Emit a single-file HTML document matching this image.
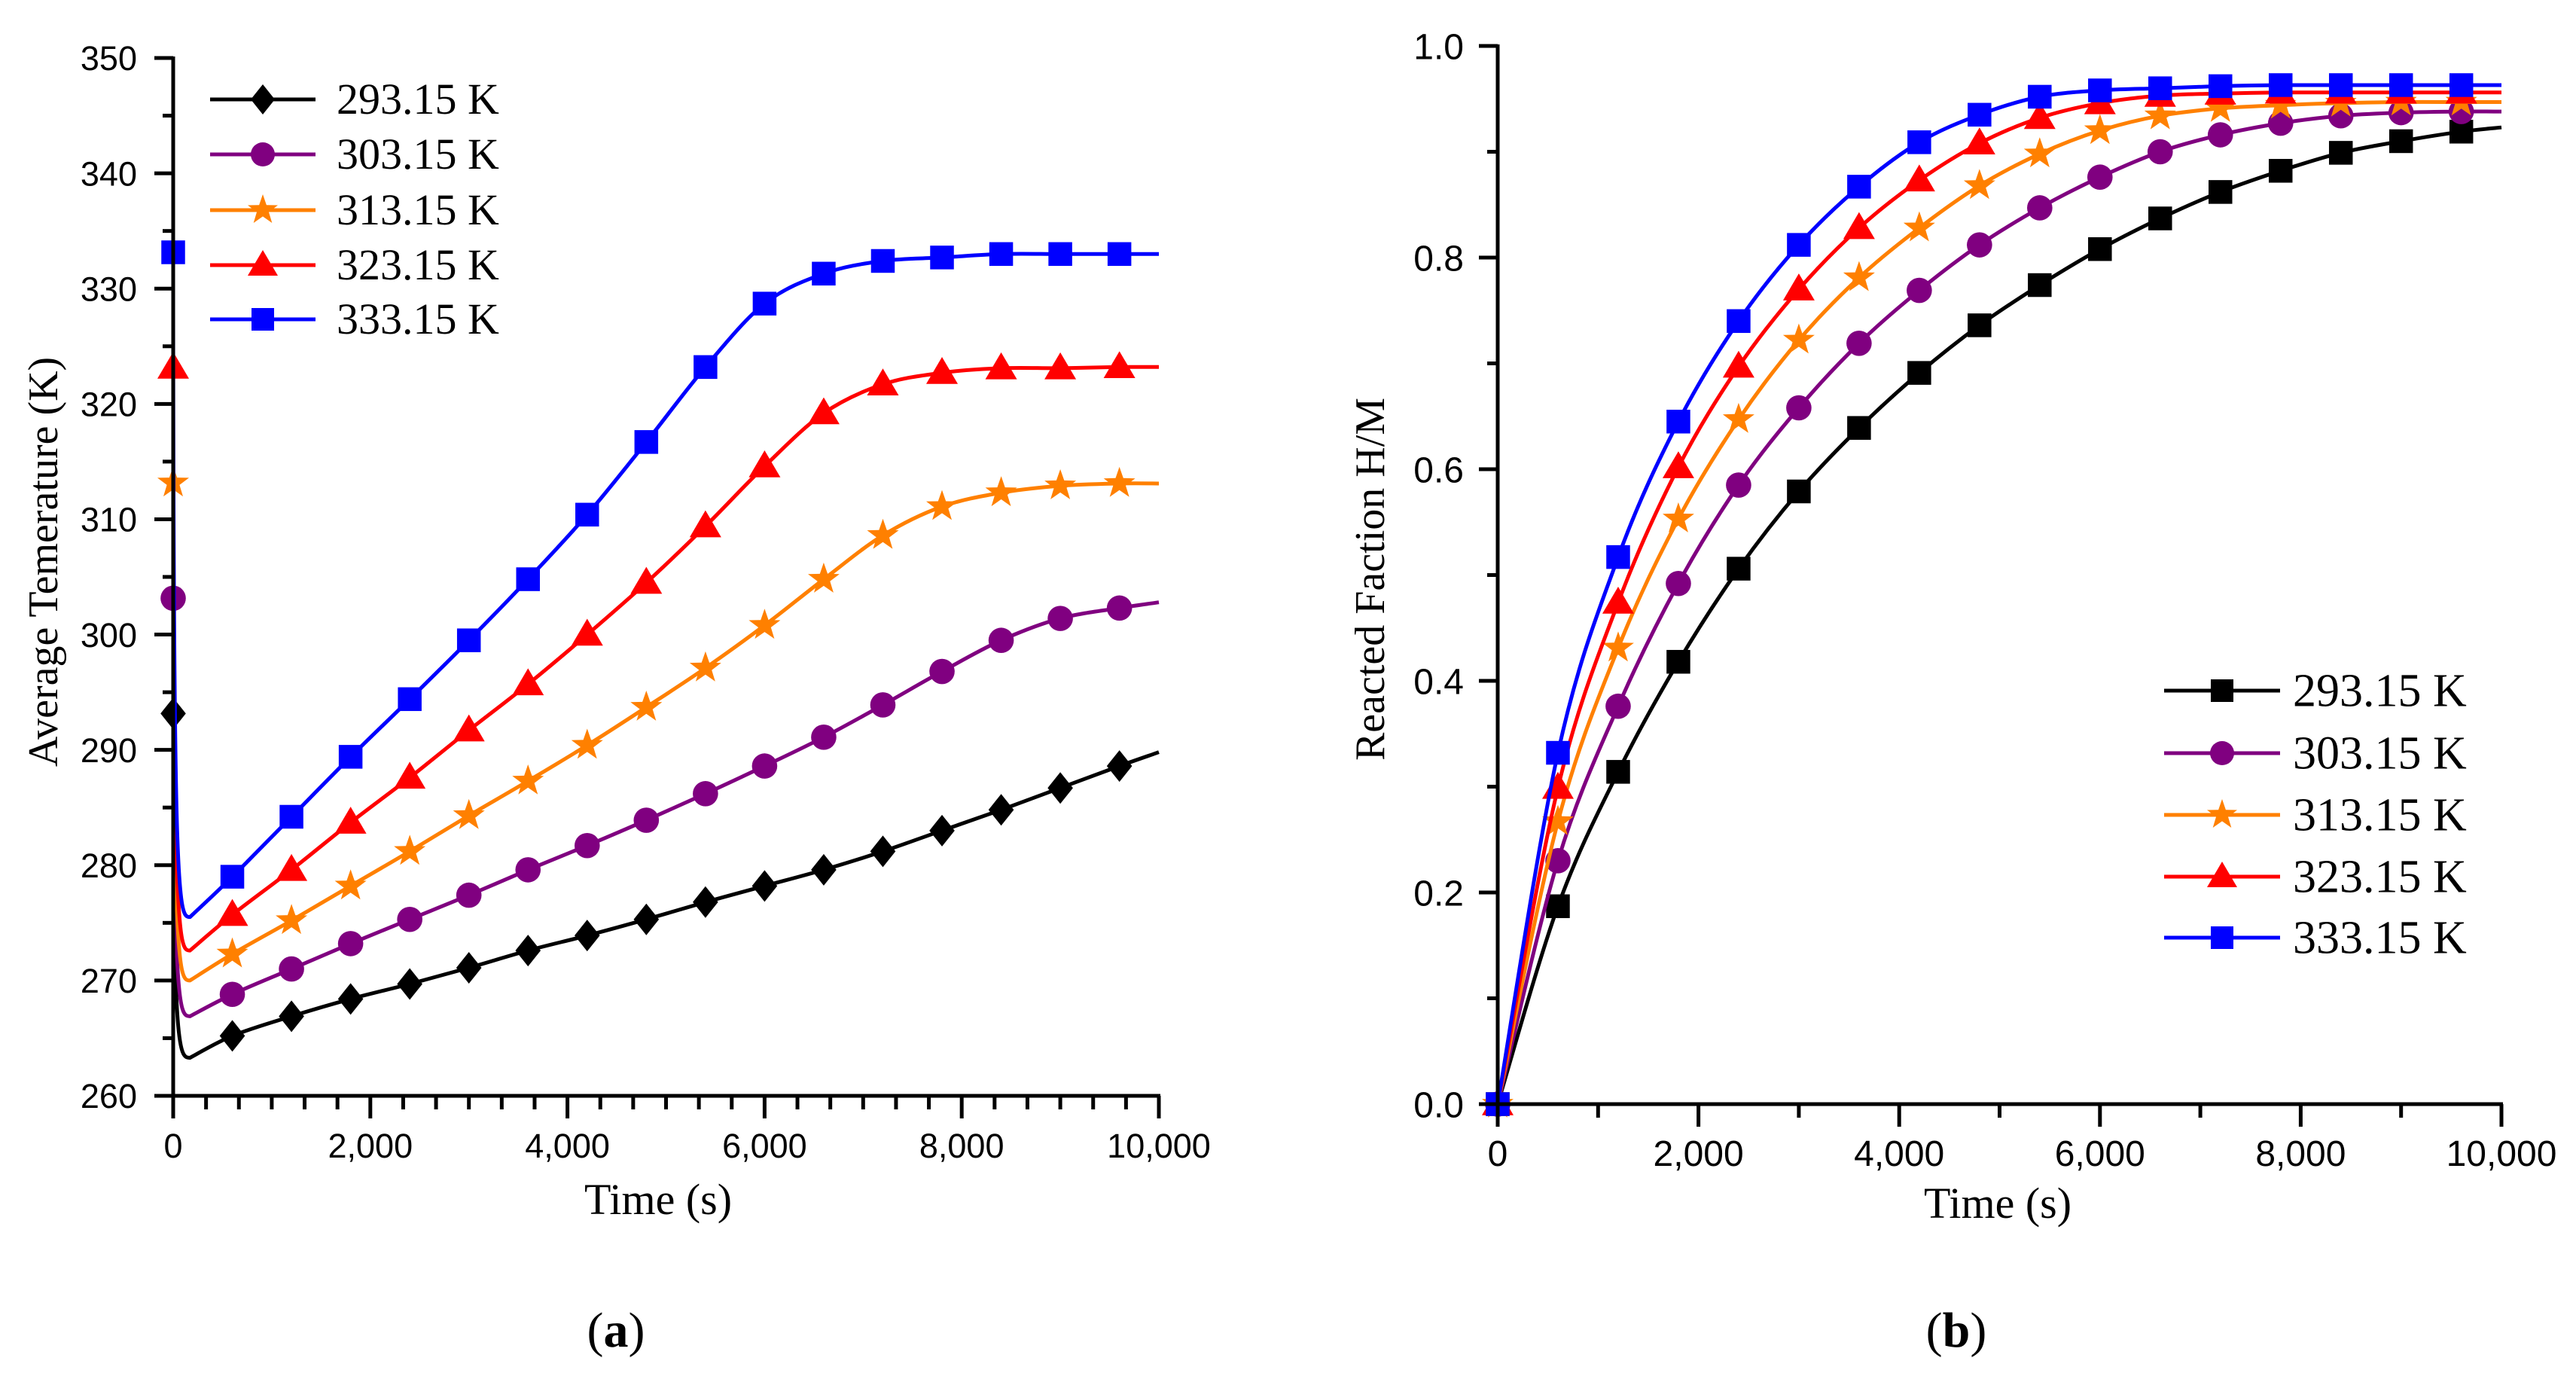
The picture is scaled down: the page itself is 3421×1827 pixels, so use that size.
<!DOCTYPE html>
<html><head><meta charset="utf-8"><style>
html,body{margin:0;padding:0;background:#fff;}
svg{display:block;}
.tick{font-family:"Liberation Sans",Arial,sans-serif;}
.serif{font-family:"Liberation Serif","Times New Roman",serif;}
</style></head><body>
<svg id="fig" width="3421" height="1827" viewBox="0 0 3421 1827" xmlns="http://www.w3.org/2000/svg">
<g id="pa"></g>
<g id="pb"></g>
</svg>
<script>
// ---------- Data ----------
const seriesNames = ["293.15 K","303.15 K","313.15 K","323.15 K","333.15 K"];
const seriesColors = ["#000000","#800080","#ff8000","#ff0000","#0000ff"];
const markerTimes = [600,1200,1800,2400,3000,3600,4200,4800,5400,6000,6600,7200,7800,8400,9000,9600];
// Panel (a): initial temperature, minimum (at ~150 s), marker values, end (10000 s)
const tempInitial = [293.15,303.15,313.15,323.15,333.15];
const tempMinTime = 170;
const tempMin = [263.3,266.9,270.0,272.6,275.5];
const tempBlack  = [265.2,266.9,268.4,269.7,271.1,272.6,273.9,275.3,276.8,278.2,279.6,281.2,283.0,284.8,286.7,288.6];
const tempPurple = [268.8,271.0,273.2,275.3,277.4,279.6,281.7,283.9,286.2,288.6,291.1,293.9,296.8,299.5,301.4,302.3];
const tempOrange = [272.3,275.2,278.2,281.2,284.3,287.3,290.4,293.7,297.1,300.8,304.8,308.6,311.1,312.3,312.9,313.1];
const tempRed    = [275.7,279.6,283.7,287.6,291.7,295.7,300.0,304.5,309.4,314.6,319.2,321.7,322.7,323.1,323.1,323.2];
const tempBlue   = [279.0,284.2,289.4,294.4,299.5,304.8,310.4,316.7,323.2,328.7,331.3,332.4,332.7,333.0,333.0,333.0];
const tempEnd = [289.8,302.8,313.1,323.2,333.0];
const tempYTicks = [260,270,280,290,300,310,320,330,340,350];
const xTickVals = [0,2000,4000,6000,8000,10000];
const xTickLabels = ["0","2,000","4,000","6,000","8,000","10,000"];
// Panel (b)
const fracBlack  = [0.187,0.314,0.418,0.506,0.579,0.639,0.691,0.736,0.774,0.808,0.837,0.862,0.882,0.899,0.910,0.919];
const fracPurple = [0.230,0.376,0.492,0.585,0.658,0.719,0.769,0.812,0.847,0.876,0.900,0.916,0.927,0.934,0.937,0.938];
const fracOrange = [0.267,0.431,0.553,0.647,0.722,0.781,0.828,0.868,0.898,0.920,0.934,0.941,0.944,0.946,0.947,0.947];
const fracRed    = [0.299,0.474,0.602,0.697,0.770,0.828,0.873,0.908,0.932,0.946,0.953,0.955,0.956,0.956,0.956,0.956];
const fracBlue   = [0.332,0.517,0.645,0.740,0.812,0.867,0.909,0.935,0.952,0.958,0.960,0.962,0.963,0.963,0.963,0.963];
const fracEnd = [0.923,0.938,0.947,0.956,0.963];
const fracYTicks = [0.0,0.2,0.4,0.6,0.8,1.0];
const fracYLabels = ["0.0","0.2","0.4","0.6","0.8","1.0"];

const NS="http://www.w3.org/2000/svg";
function mk(parent,tag,attrs,text){const e=document.createElementNS(NS,tag);for(const k in attrs)e.setAttribute(k,attrs[k]);if(text!==undefined)e.textContent=text;parent.appendChild(e);return e;}

function smoothPath(pts){ // Catmull-Rom to bezier
  let d="M"+pts[0][0].toFixed(1)+","+pts[0][1].toFixed(1);
  for(let i=0;i<pts.length-1;i++){
    const p0=pts[Math.max(0,i-1)],p1=pts[i],p2=pts[i+1],p3=pts[Math.min(pts.length-1,i+2)];
    const c1=[p1[0]+(p2[0]-p0[0])/6,p1[1]+(p2[1]-p0[1])/6];
    const c2=[p2[0]-(p3[0]-p1[0])/6,p2[1]-(p3[1]-p1[1])/6];
    d+=" C"+c1[0].toFixed(1)+","+c1[1].toFixed(1)+" "+c2[0].toFixed(1)+","+c2[1].toFixed(1)+" "+p2[0].toFixed(1)+","+p2[1].toFixed(1);
  }
  return d;
}
function marker(g,type,x,y,color,s){
  let e;
  if(type==="diamond") e=mk(g,"polygon",{points:`${x},${y-s} ${x+s*0.8},${y} ${x},${y+s} ${x-s*0.8},${y}`,fill:color});
  else if(type==="circle") e=mk(g,"circle",{cx:x,cy:y,r:s*0.8,fill:color});
  else if(type==="square") e=mk(g,"rect",{x:x-s*0.75,y:y-s*0.75,width:s*1.5,height:s*1.5,fill:color});
  else if(type==="triangle") e=mk(g,"polygon",{points:`${x},${y-s} ${x+s},${y+s*0.7} ${x-s},${y+s*0.7}`,fill:color});
  else { let p=[];for(let i=0;i<10;i++){const r=i%2?s*0.42:s*1.05;const a=-Math.PI/2+i*Math.PI/5;p.push((x+r*Math.cos(a)).toFixed(1)+","+(y+r*Math.sin(a)).toFixed(1));}
    e=mk(g,"polygon",{points:p.join(" "),fill:color}); }
  return e;
}

function drawPanel(cfg){
  const g=document.getElementById(cfg.id);
  const X=t=>cfg.x0+(t-0)/10000*(cfg.x1-cfg.x0);
  const Y=v=>cfg.y0-(v-cfg.vmin)/(cfg.vmax-cfg.vmin)*(cfg.y0-cfg.y1);
  cfg.series.forEach((s,i)=>{
    const sg=mk(g,"g",{});
    
    
    const pts=s.pts.map(p=>[X(p[0]),Y(p[1])]);
    let d;
    if(s.dropFirst){
      const rest=smoothPath(pts.slice(1));
      const p0=pts[0],p1=pts[1];
      d="M"+p0[0]+","+p0[1]+" C"+p0[0]+","+(p1[1]-10)+" "+(p0[0]+(p1[0]-p0[0])*0.3)+","+p1[1]+" "+p1[0]+","+p1[1]+" "+rest.replace(/^M[^C]*/,"");
    }
    else d=smoothPath(pts);
    mk(sg,"path",{d:d,fill:"none",stroke:seriesColors[i],"stroke-width":5,"stroke-linejoin":"round"});
    s.marks.forEach(p=>{const m=marker(sg,cfg.markers[i],X(p[0]),Y(p[1]),seriesColors[i],21);
      
      });
  });
  const ax=mk(g,"g",{});
  
  
  mk(ax,"line",{x1:cfg.x0,y1:cfg.y1-2,x2:cfg.x0,y2:cfg.y0+30,stroke:"#000","stroke-width":5});
  mk(ax,"line",{x1:cfg.x0-25,y1:cfg.y0,x2:cfg.x1+2,y2:cfg.y0,stroke:"#000","stroke-width":5});
  cfg.yTicks.forEach((v,i)=>{
    mk(ax,"line",{x1:cfg.x0-25,y1:Y(v),x2:cfg.x0,y2:Y(v),stroke:"#000","stroke-width":5});
    if(i<cfg.yTicks.length-1){const vm=(v+cfg.yTicks[i+1])/2;mk(ax,"line",{x1:cfg.x0-14,y1:Y(vm),x2:cfg.x0,y2:Y(vm),stroke:"#000","stroke-width":5});}
    const t=mk(ax,"text",{x:cfg.x0-cfg.ylabOff,y:Y(v)+cfg.tickFs*0.36,"text-anchor":"end","font-size":cfg.tickFs,class:"tick"},cfg.yLabels[i]);
    
    
  });
  for(let t=0;t<=10000+1;t+=cfg.minorStep){
    const major=Math.abs(t/2000-Math.round(t/2000))<1e-6;
    mk(ax,"line",{x1:X(t),y1:cfg.y0,x2:X(t),y2:cfg.y0+(major?30:18),stroke:"#000","stroke-width":5});
  }
  xTickVals.forEach((v,i)=>{
    const t=mk(ax,"text",{x:X(v),y:cfg.y0+cfg.xlabOff,"text-anchor":"middle","font-size":cfg.tickFs,class:"tick"},xTickLabels[i]);
    
    
  });
  const xt=mk(g,"text",{x:cfg.xtX,y:cfg.xtY,"text-anchor":"middle","font-size":58,class:"serif"},"Time (s)");
  
  
  const yt=mk(g,"text",{x:0,y:0,"text-anchor":"middle","font-size":56,class:"serif",transform:`translate(${cfg.ytX},${cfg.ytY}) rotate(-90)`},cfg.yTitle);
  
  
  const pl=mk(g,"text",{x:cfg.plX,y:cfg.plY,"text-anchor":"middle","font-size":66,class:"serif"});
  
  
  mk(pl,"tspan",{},"(");mk(pl,"tspan",{"font-weight":"bold"},cfg.plLetter);mk(pl,"tspan",{},")");
  const lg=mk(g,"g",{});
  
  
  cfg.legRows.forEach((ly,i)=>{
    const e=mk(lg,"g",{});
    
    
    mk(e,"line",{x1:cfg.legX0,y1:ly,x2:cfg.legX1,y2:ly,stroke:seriesColors[i],"stroke-width":5});
    marker(e,cfg.markers[i],(cfg.legX0+cfg.legX1)/2,ly,seriesColors[i],20);
    mk(e,"text",{x:cfg.legTX,y:ly+cfg.legFs*0.33,"font-size":cfg.legFs,class:"serif"},seriesNames[i]);
  });
}

const tempSets=[tempBlack,tempPurple,tempOrange,tempRed,tempBlue];
const fracSets=[fracBlack,fracPurple,fracOrange,fracRed,fracBlue];
drawPanel({id:"pa",x0:230,x1:1539,y0:1455,y1:77,vmin:260,vmax:350,
  yTicks:tempYTicks,yLabels:tempYTicks.map(String),tickFs:45,ylabOff:48,xlabOff:82,minorStep:2000/6,
  markers:["diamond","circle","star","triangle","square"],
  series:tempSets.map((vals,i)=>({dropFirst:true,
    pts:[[0,tempInitial[i]],[tempMinTime,tempMin[i]]].concat(markerTimes.map((t,j)=>[t,vals[j]])).concat([[10000,tempEnd[i]]]),
    marks:[[0,tempInitial[i]]].concat(markerTimes.map((t,j)=>[t,vals[j]]))})),
  xtX:874,xtY:1612,yTitle:"Average Temerature (K)",ytX:76,ytY:746,plX:818,plY:1788,plLetter:"a",
  legRows:[132,205,279,352,424],legX0:279,legX1:419,legTX:447,legFs:58});
drawPanel({id:"pb",x0:1989,x1:3322,y0:1466,y1:61,vmin:0,vmax:1,
  yTicks:fracYTicks,yLabels:fracYLabels,tickFs:48,ylabOff:45,xlabOff:82,minorStep:1000,
  markers:["square","circle","star","triangle","square"],
  series:fracSets.map((vals,i)=>({dropFirst:false,
    pts:[[0,0]].concat(markerTimes.map((t,j)=>[t,vals[j]])).concat([[10000,fracEnd[i]]]),
    marks:[[0,0]].concat(markerTimes.map((t,j)=>[t,vals[j]]))})),
  xtX:2653,xtY:1617,yTitle:"Reacted Faction H/M",ytX:1838,ytY:769,plX:2598,plY:1788,plLetter:"b",
  legRows:[917,1000,1082,1164,1245],legX0:2874,legX1:3028,legTX:3045,legFs:62});
</script>
</body></html>
